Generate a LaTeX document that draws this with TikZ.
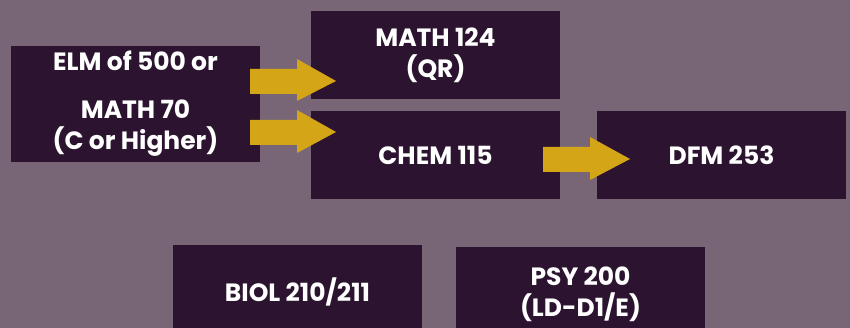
\documentclass[tikz,border=0pt]{standalone}
\usepackage{fontspec}
\setmainfont{Poppins}
\definecolor{bgc}{HTML}{786677}
\definecolor{boxc}{HTML}{2C1430}
\definecolor{goldc}{HTML}{D4A617}
\begin{document}
\begin{tikzpicture}[x=1pt,y=-1pt,
  box/.style={fill=boxc, inner sep=0pt, text=white, align=center,
    font=\bfseries\fontsize{25}{31}\selectfont},
  blockarrow/.style={fill=goldc}]
\fill[bgc] (0,0) rectangle (850,328);
\useasboundingbox (0,0) rectangle (850,328);
\node[box, minimum width=249pt, minimum height=116pt] (elm) at (135.5,104)
  {ELM of 500 or\\[17pt]MATH 70\\(C or Higher)};
\node[box, minimum width=249pt, minimum height=88pt] (math) at (435.5,55)
  {MATH 124\\(QR)};
\node[box, minimum width=249pt, minimum height=88pt] (chem) at (435.5,155.5)
  {CHEM 115};
\node[box, minimum width=249pt, minimum height=88pt] (dfm) at (721.5,155.5)
  {DFM 253};
\node[box, minimum width=249pt, minimum height=94pt] (biol) at (297.5,292)
  {BIOL 210/211};
\node[box, minimum width=249pt, minimum height=94pt] (psy) at (580.5,294)
  {PSY 200\\(LD-D1/E)};
\fill[blockarrow] (250,69) -- (297,69) -- (297,59) -- (336,81) -- (297,101) -- (297,94) -- (250,94) -- cycle;
\fill[blockarrow] (250,120) -- (297,120) -- (297,110) -- (336,132) -- (297,153) -- (297,145) -- (250,145) -- cycle;
\fill[blockarrow] (543,147) -- (590,147) -- (590,137) -- (630,159) -- (590,180) -- (590,172) -- (543,172) -- cycle;
\end{tikzpicture}
\end{document}
